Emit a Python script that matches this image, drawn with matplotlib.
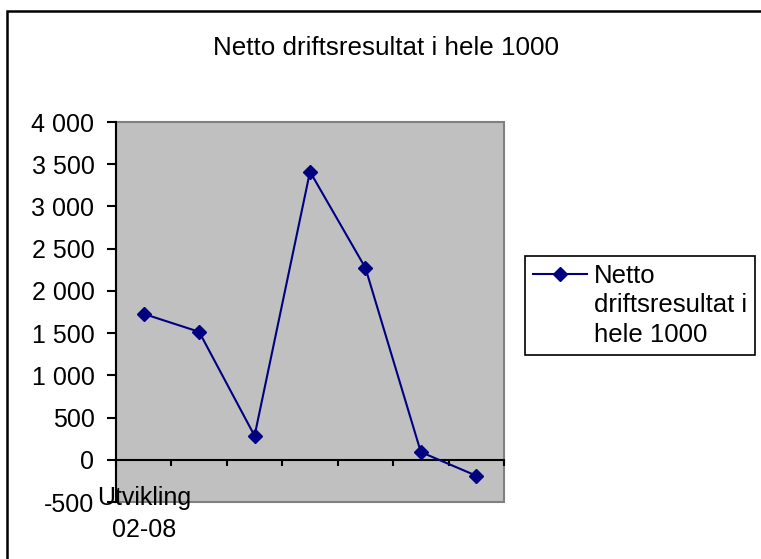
import matplotlib.pyplot as plt
from matplotlib.lines import Line2D
from matplotlib.patches import Rectangle
from matplotlib.ticker import FuncFormatter, MultipleLocator
import numpy as np

plt.rcParams['font.family'] = ['Liberation Sans', 'DejaVu Sans']
plt.rcParams['font.size'] = 18

title = "Netto driftsresultat i hele 1000"
series_name = ["Netto", "driftsresultat i", "hele 1000"]
cat_labels = ["Utvikling\n02-08", "", "", "", "", "", ""]
values = [1728, 1515, 284, 3412, 2272, 91, -189]

W, H = 761, 559
fig = plt.figure(figsize=(W / 100, H / 100), dpi=100)
ax = fig.add_axes([116 / W, 1 - 502 / H, (504 - 116) / W, (502 - 122) / H])

ax.set_facecolor('#C0C0C0')
ax.patch.set_edgecolor('#808080')
ax.patch.set_linewidth(1.5)

x = np.arange(len(values)) + 0.5
line, = ax.plot(x, values, color='#000080', lw=1.5, marker='D', ms=7.5,
                mec='#000080', mfc='#000080', zorder=5, clip_on=False)

ax.set_xlim(0, len(values))
ax.set_ylim(-500, 4000)
ax.yaxis.set_major_locator(MultipleLocator(500))
ax.yaxis.set_major_formatter(FuncFormatter(lambda v, p: f"{v:,.0f}".replace(",", " ")))

for s in ['top', 'right']:
    ax.spines[s].set_visible(False)
ax.spines['left'].set_color('black')
ax.spines['left'].set_linewidth(1.5)
ax.spines['bottom'].set_position(('data', 0))
ax.spines['bottom'].set_color('black')
ax.spines['bottom'].set_linewidth(1.5)

ax.tick_params(axis='y', direction='out', length=6.5, width=1.5, pad=9)
ax.set_xticks(x)
ax.set_xticklabels(cat_labels, linespacing=1.4)
ax.set_xticks(np.arange(len(values) + 1), minor=True)
ax.tick_params(axis='x', which='major', length=0, pad=19)
ax.tick_params(axis='x', which='minor', direction='out', length=4.5, width=1.5)

fig.text(386 / W, 1 - 55 / H, title, ha='center', va='baseline', fontsize=18.7)

# legend: first line carries the marker, other lines continue the label
blank = Line2D([], [], color='none')
leg = fig.legend([line, blank, blank], series_name, loc='upper left',
                 bbox_to_anchor=(525 / W, 1 - 256 / H), bbox_transform=fig.transFigure,
                 borderaxespad=0, frameon=True, fancybox=False, edgecolor='black',
                 framealpha=1, handlelength=2.1, handletextpad=0.3, borderpad=0.3,
                 labelspacing=0.22, numpoints=1, fontsize=18.5)
leg.get_frame().set_linewidth(1.2)

# outer chart frame (only top and left edges are visible in the picture)
fig.add_artist(Rectangle((7 / W, -0.2), 1.2, 1 - 11 / H + 0.2, transform=fig.transFigure,
                         fill=False, edgecolor='black', lw=1.8, clip_on=False))

fig.savefig('out.png', dpi=100)
